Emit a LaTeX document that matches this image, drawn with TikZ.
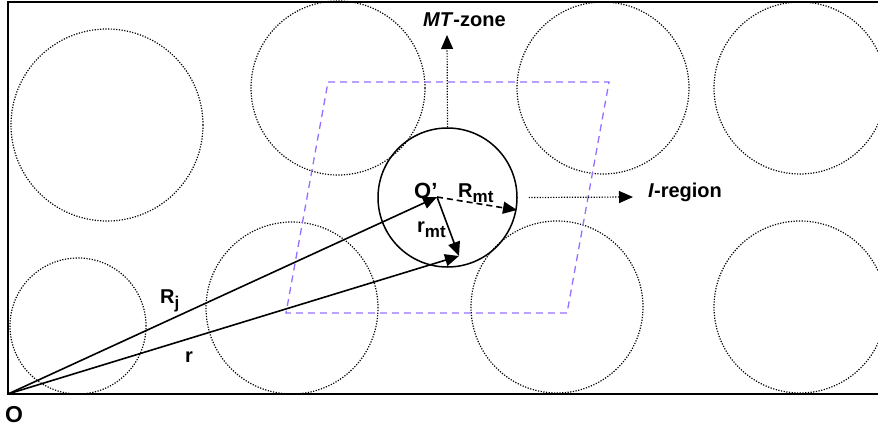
\documentclass[tikz,border=0pt]{standalone}
\usepackage{fontspec}
\setmainfont{Liberation Sans}
\usetikzlibrary{arrows.meta}
\definecolor{pc}{RGB}{150,110,255}
\newcommand\lsub[1]{\raisebox{-5pt}{\fontsize{17}{17}\selectfont #1}}
\tikzset{dot/.style={dash pattern=on 1.2pt off 1.5pt,line width=1.2pt},
 frame/.style={line width=2pt},
 vec/.style={line width=1.6pt,-{Triangle[length=14pt,width=12pt]}},
 cell/.style={draw=pc,dash pattern=on 7pt off 5pt,line width=1.3pt},
 lab/.style={font=\fontsize{20}{24}\selectfont\bfseries,inner sep=0pt}}
\begin{document}
\begin{tikzpicture}[x=1pt,y=-1pt]
\useasboundingbox (0,0) rectangle (878,428);
\clip (0,0) rectangle (878,428);
\draw[frame] (8,2) rectangle (900,394);
% spheres of the lattice
\foreach \cx/\cy/\rr in {107/125/96,338/88/87,603/88/86,800/88/86,78/326/68,292/308/86,557/307/86,800/307/86}
 \draw[dot] (\cx,\cy) circle[radius=\rr pt];
% unit cell
\draw[cell] (328,82) -- (609,82) -- (567,313) -- (286,313) -- cycle;
% central sphere
\node[draw,circle,line width=1.5pt,minimum size=139pt,inner sep=0pt] (S) at (447.5,197.5) {};
\coordinate (O) at (8,394);\coordinate (Op) at (437,197);
\coordinate (P) at (459,256);\coordinate (E) at (517,210);
\coordinate (Mz) at (447,35);\coordinate (Ir) at (633,197);
\draw[vec] (O)--(Op);\draw[vec] (O)--(P);\draw[vec] (Op)--(P);
\draw[vec,dash pattern=on 6pt off 4pt] (Op)--(E);
\draw[vec,dot] (S.north)--(Mz);
\draw[vec,dot] ([xshift=11pt]S.east)--(Ir);
% labels
\node[lab,anchor=base west] (mtz) at (423,27) {\textit{MT}-zone};
\node[lab,anchor=base west] (ireg) at (648,197) {\textit{I}-region};
\node[lab,anchor=base west,font=\fontsize{22}{24}\selectfont\bfseries] (op) at (414,198) {O’};
\node[lab,anchor=base west] (Rmt) at (458,197) {R\lsub{mt}};
\node[lab,anchor=base west] (rmt) at (417,232) {r\lsub{mt}};
\node[lab,anchor=base west] (Rj) at (160,303) {R\lsub{j}};
\node[lab,anchor=base west] (rv) at (185,362) {r};
\node[lab,anchor=base west,font=\fontsize{23}{24}\selectfont\bfseries] (o) at (5,422) {O};
\end{tikzpicture}
\end{document}
